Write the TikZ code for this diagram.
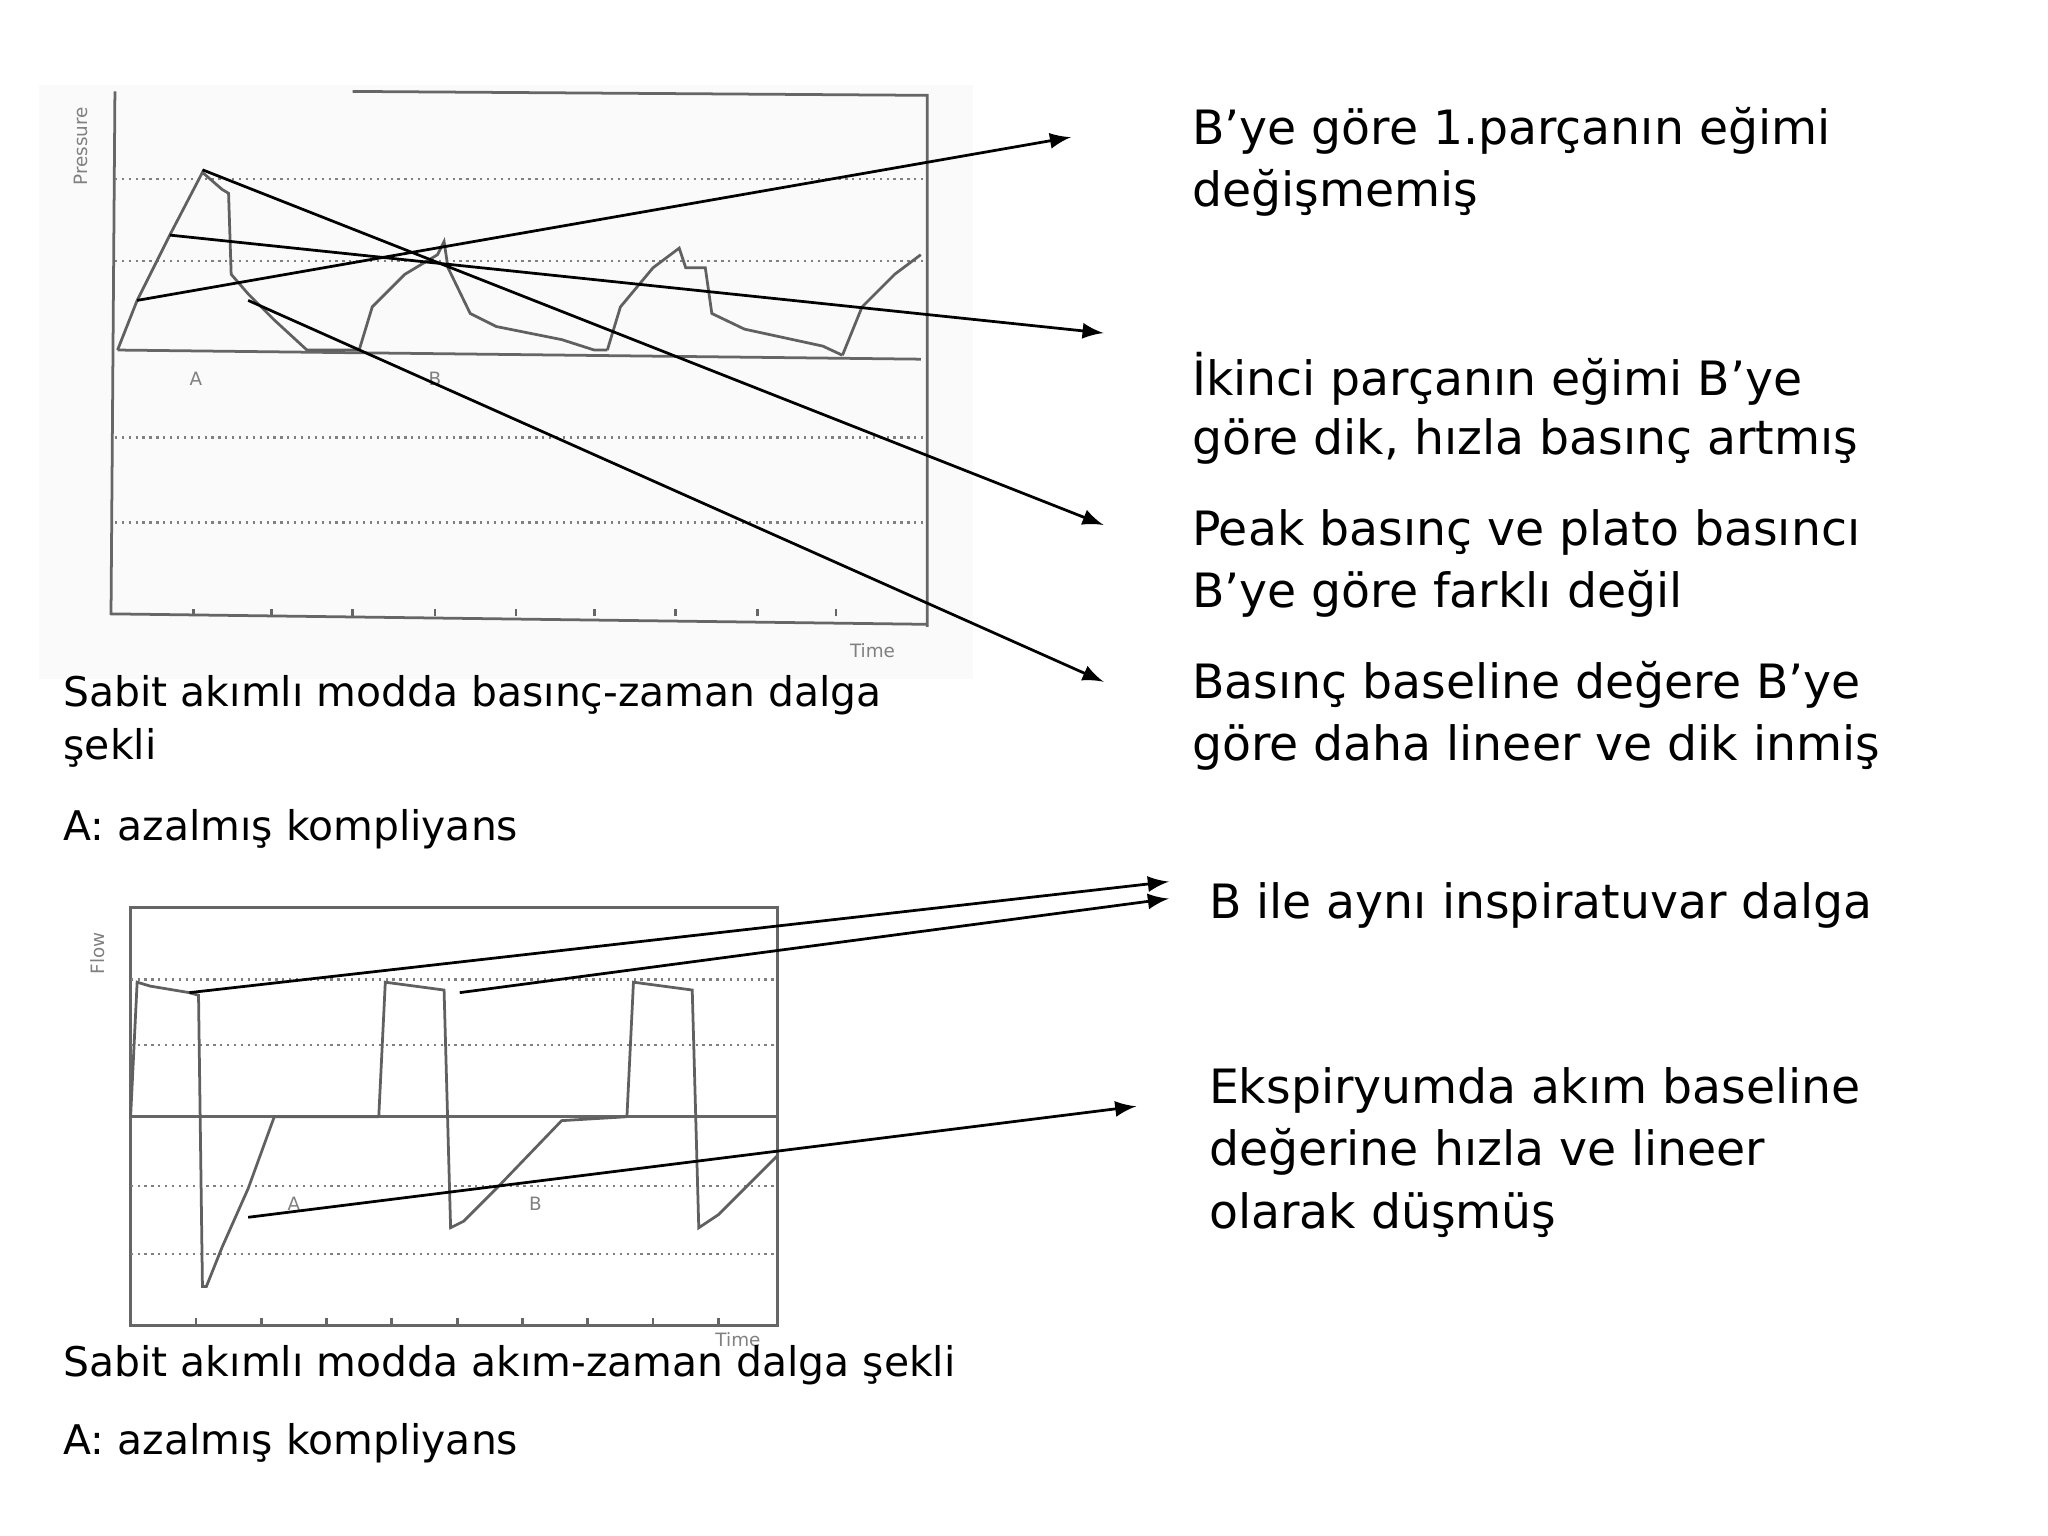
\documentclass[tikz,border=0pt]{standalone}
\usepackage{fontspec}
\setmainfont{DejaVu Sans}
\begin{document}
\begin{tikzpicture}[x=0.01cm,y=-0.01cm,
  txt/.style={anchor=west,inner sep=0pt,font=\fontsize{10.3}{13.4}\selectfont},
  ltxt/.style={anchor=west,inner sep=0pt,font=\fontsize{8.9}{12}\selectfont},
  grid/.style={densely dotted,gray,line width=0.5pt},
  frame/.style={gray!80!black,line width=0.6pt},
  wave/.style={gray!75!black,line width=0.6pt},
  small/.style={font=\fontsize{4}{5}\selectfont,text=gray,inner sep=0pt},
  arr/.style={-latex,line width=0.6pt}]
\useasboundingbox (0,0) rectangle (1568,1176);
% pressure chart
\fill[gray!4] (30,65) rectangle (745,520);
\draw[frame] (88,70) -- (85,470) -- (710,478);
\draw[frame] (270,70) -- (710,73) -- (710,480);
\foreach \y in {137,200,335,400} \draw[grid] (88,\y) -- (710,\y);
\draw[frame] (90,268) -- (705,275);
\foreach \x in {148,208,270,333,395,455,517,580,640} \draw[frame] (\x,472) -- (\x,466);
\node[small,rotate=90] at (62,112) {Pressure};
\node[small] at (668,498) {Time};
\node[small] at (150,290) {A};
\node[small] at (333,290) {B};
\draw[wave] (90,268) -- (105,230) -- (130,180) -- (155,132) -- (170,145) -- (175,148) -- (177,210) -- (190,225) -- (210,245) -- (235,268) -- (275,268);
\draw[wave] (275,268) -- (285,235) -- (310,210) -- (335,195) -- (340,185) -- (343,205) -- (360,240) -- (380,250) -- (430,260) -- (455,268) -- (465,268);
\draw[wave] (465,268) -- (475,235) -- (500,205) -- (520,190) -- (525,205) -- (540,205) -- (545,240) -- (570,252) -- (630,265) -- (645,272);
\draw[wave] (645,272) -- (660,235) -- (685,210) -- (705,195);
\coordinate (p1) at (155,130); \coordinate (p2) at (130,180);
\coordinate (p3) at (105,230); \coordinate (p4) at (190,230);
\coordinate (q1) at (845,402); \coordinate (q2) at (845,255);
\coordinate (q3) at (820,105); \coordinate (q4) at (845,522);
\draw[arr] (p1) -- (q1); \draw[arr] (p2) -- (q2);
\draw[arr] (p3) -- (q3); \draw[arr] (p4) -- (q4);
% flow chart
\draw[frame] (100,695) rectangle (595,1015);
\foreach \y in {750,800,908,960} \draw[grid] (100,\y) -- (595,\y);
\draw[frame] (100,855) -- (595,855);
\foreach \x in {150,200,250,300,350,400,450,500,550} \draw[frame] (\x,1015) -- (\x,1009);
\node[small,rotate=90] at (75,730) {Flow};
\node[small] at (565,1026) {Time};
\node[small] at (225,922) {A};
\node[small] at (410,922) {B};
\draw[wave] (100,855) -- (105,752) -- (115,755) -- (145,760) -- (152,762) -- (155,985) -- (158,985) -- (170,955) -- (190,910) -- (210,855) -- (290,855);
\draw[wave] (290,855) -- (295,752) -- (340,758) -- (345,940) -- (355,935) -- (380,910) -- (430,858) -- (480,855);
\draw[wave] (480,855) -- (485,752) -- (530,758) -- (535,940) -- (550,930) -- (595,885);
\coordinate (f1) at (145,760); \coordinate (f2) at (352,760); \coordinate (f3) at (190,932);
\coordinate (g1) at (895,675); \coordinate (g2) at (895,688); \coordinate (g3) at (870,847);
\draw[arr] (f1) -- (g1); \draw[arr] (f2) -- (g2); \draw[arr] (f3) -- (g3);
% texts
\node[txt] (t1) at (912,100) {B’ye göre 1.parçanın eğimi};
\node[txt] (t1b) at (912,148) {değişmemiş};
\node[txt] (t2) at (912,290) {İkinci parçanın eğimi B’ye};
\node[txt] (t2b) at (912,338) {göre dik, hızla basınç artmış};
\node[txt] (t3) at (912,408) {Peak basınç ve plato basıncı};
\node[txt] (t3b) at (912,455) {B’ye göre farklı değil};
\node[txt] (t4) at (912,524) {Basınç baseline değere B’ye};
\node[txt] (t4b) at (912,572) {göre daha lineer ve dik inmiş};
\node[txt] (t5) at (925,693) {B ile aynı inspiratuvar dalga};
\node[txt] (t6) at (925,835) {Ekspiryumda akım baseline};
\node[txt] (t6b) at (925,882) {değerine hızla ve lineer};
\node[txt] (t6c) at (925,930) {olarak düşmüş};
\node[ltxt] (l1) at (48,532) {Sabit akımlı modda basınç-zaman dalga};
\node[ltxt] (l1b) at (48,573) {şekli};
\node[ltxt] (l2) at (48,635) {A: azalmış kompliyans};
\node[ltxt] (l3) at (48,1045) {Sabit akımlı modda akım-zaman dalga şekli};
\node[ltxt] (l4) at (48,1105) {A: azalmış kompliyans};
\end{tikzpicture}
\end{document}
